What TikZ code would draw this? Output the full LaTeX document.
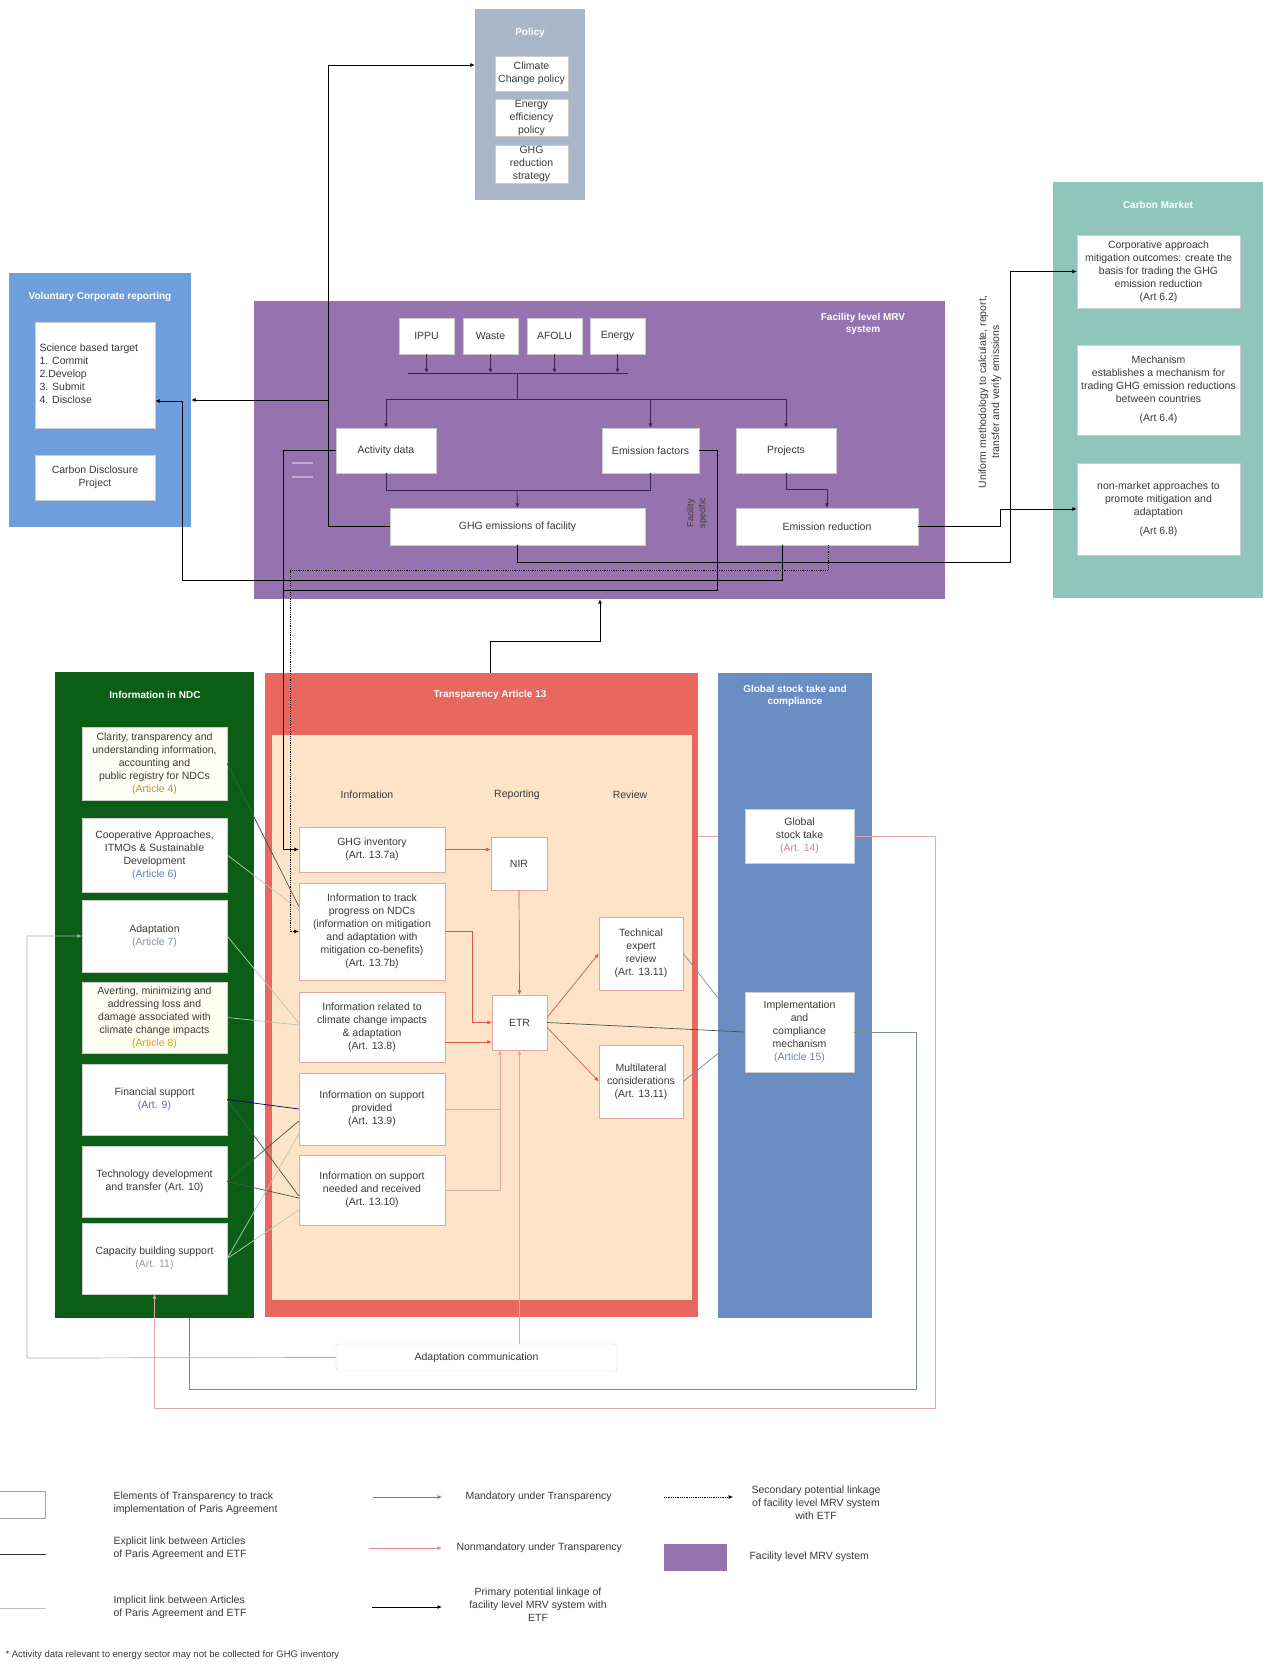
\documentclass[tikz,border=0pt]{standalone}
\usepackage{fontspec}
\setmainfont{Liberation Sans}
\usepackage{tikz}
\usetikzlibrary{arrows.meta,positioning,calc}

\definecolor{policyc}{HTML}{A9B6CA}
\definecolor{volc}{HTML}{6E9FDC}
\definecolor{mrvc}{HTML}{9672AE}
\definecolor{carbonc}{HTML}{8FC6B9}
\definecolor{ndcc}{HTML}{0C5E17}
\definecolor{transc}{HTML}{E8675E}
\definecolor{peach}{HTML}{FDE4C9}
\definecolor{gstc}{HTML}{6A8DC3}
\definecolor{textc}{HTML}{3A3A3A}
\definecolor{mandc}{HTML}{D9564A}
\definecolor{nonmandc}{HTML}{EBA3A3}
\definecolor{explc}{HTML}{3F5B45}
\definecolor{implc}{HTML}{B9C7B6}
\definecolor{loopc}{HTML}{7D8E92}
\definecolor{mrvline}{HTML}{3A2650}

\tikzset{
  panel/.style={rectangle,inner sep=0pt,draw=none},
  ptitle/.style={font=\bfseries\fontsize{10}{12}\selectfont,text=white,align=center},
  wbox/.style={draw=black!20,fill=white,rectangle,align=center,inner sep=1pt,
    font=\fontsize{10.5}{13}\selectfont,text=textc},
  tbox/.style={wbox,draw=mandc!55},
  lbl/.style={font=\fontsize{10.5}{13}\selectfont,text=textc,align=center},
  tip/.style={-{Latex[length=4.5pt,width=4pt]}},
  mrvlink/.style={mrvline,line width=0.7pt},
  prim/.style={black,line width=0.8pt},
  sec/.style={black,line width=0.8pt,densely dotted},
  mand/.style={mandc,line width=0.7pt},
  nonmand/.style={nonmandc,line width=0.6pt},
  expl/.style={explc,line width=0.7pt},
  impl/.style={implc,line width=0.7pt},
  loopline/.style={loopc,line width=0.7pt},
}

\begin{document}
\begin{tikzpicture}[x=1pt,y=-1pt]
  \useasboundingbox[fill=white] (0,0) rectangle (1270,1667);

  % panels
  \node[panel,fill=policyc,minimum width=110pt,minimum height=191pt] (policy) at (530,104.5) {};
  \node[ptitle] (policyt) at (530,33) {Policy};
  \node[panel,fill=volc,minimum width=182pt,minimum height=254pt] (vol) at (100,400) {};
  \node[ptitle] (volt) at (100,297) {Voluntary Corporate reporting};
  \node[panel,fill=mrvc,minimum width=691pt,minimum height=298pt] (mrv) at (599.5,450) {};
  \node[ptitle] (mrvt) at (863,324) {Facility level MRV\\system};
  \node[panel,fill=carbonc,minimum width=210pt,minimum height=416pt] (carbon) at (1158,390) {};
  \node[ptitle] (carbont) at (1158,205) {Carbon Market};
  \node[panel,fill=ndcc,minimum width=199pt,minimum height=646pt] (ndc) at (154.5,995) {};
  \node[ptitle] (ndct) at (155,695) {Information in NDC};
  \node[panel,fill=transc,minimum width=433pt,minimum height=644pt] (trans) at (481.5,995) {};
  \node[panel,fill=peach,minimum width=420pt,minimum height=565pt] (transin) at (482,1017.5) {};
  \node[ptitle] (transt) at (490,695) {Transparency Article 13};
  \node[panel,fill=gstc,minimum width=154pt,minimum height=645pt] (gstp) at (795,995.5) {};
  \node[ptitle] (gstt) at (795,696) {Global stock take and\\compliance};

  % policy
  \node[wbox,minimum width=73pt,minimum height=35pt] (climpol) at (531.5,73.5) {Climate\\Change policy};
  \node[wbox,minimum width=73pt,minimum height=37pt] (enpol) at (531.5,117.5) {Energy\\efficiency\\policy};
  \node[wbox,minimum width=73pt,minimum height=38pt] (ghgstr) at (531.5,164) {GHG\\reduction\\strategy};

  % voluntary reporting
  \node[wbox,minimum width=120pt,minimum height=106pt] (sbt) at (95,375) {};
  \node[lbl,align=left,anchor=north west] (sbtt) at (36,340) {Science based target\\1. Commit\\2.Develop\\3. Submit\\4. Disclose};
  \node[wbox,minimum width=120pt,minimum height=45pt] (cdp) at (95,477.5) {Carbon Disclosure\\Project};

  % facility level MRV
  \node[wbox,minimum width=55pt,minimum height=36pt] (ippu) at (426.5,336) {IPPU};
  \node[wbox,minimum width=55pt,minimum height=36pt] (waste) at (490.5,336) {Waste};
  \node[wbox,minimum width=55pt,minimum height=36pt] (afolu) at (554.5,336) {AFOLU};
  \node[wbox,minimum width=55pt,minimum height=36pt] (energy) at (617.5,336) {Energy};
  \node[wbox,minimum width=100pt,minimum height=45pt] (actd) at (386,450.5) {Activity data};
  \node[wbox,minimum width=97pt,minimum height=45pt] (emfac) at (650.5,450.5) {Emission factors};
  \node[wbox,minimum width=100pt,minimum height=45pt] (proj) at (786,450.5) {Projects};
  \node[wbox,minimum width=255pt,minimum height=37pt] (ghgfac) at (517.5,526.5) {GHG emissions of facility};
  \node[wbox,minimum width=182pt,minimum height=37pt] (emred) at (827,526.5) {Emission reduction};
  \node[lbl,rotate=90,font=\fontsize{9}{12}\selectfont] (fspec) at (697,513) {Facility\\specific};
  \coordinate (dashA) at (292,463); \coordinate (dashB) at (292,477);
  \draw[mrvc!60!white,line width=1.2pt] (dashA) -- ++(21,0) (dashB) -- ++(21,0);

  % carbon market
  \node[wbox,minimum width=163pt,minimum height=73pt] (corp) at (1158.5,271.5) {Corporative approach\\mitigation outcomes: create the\\basis for trading the GHG\\emission reduction\\(Art 6.2)};
  \node[wbox,minimum width=163pt,minimum height=90pt] (mech) at (1158.5,390) {Mechanism\\establishes a mechanism for\\trading GHG emission reductions\\between countries\\[6pt](Art 6.4)};
  \node[wbox,minimum width=163pt,minimum height=92pt] (nonmk) at (1158.5,509) {non-market approaches to\\promote mitigation and\\adaptation\\[6pt](Art 6.8)};
  \node[lbl,rotate=90] (unif) at (990,392) {Uniform methodology to calculate, report,\\transfer and verify emissions};

  % information in NDC
  \node[wbox,fill=yellow!4,minimum width=145pt,minimum height=73pt] (clar) at (154.5,763.5) {Clarity, transparency and\\understanding information,\\accounting and\\public registry for NDCs\\\textcolor[HTML]{C98A3A}{(Article 4)}};
  \node[wbox,minimum width=145pt,minimum height=74pt] (coop) at (154.5,855) {Cooperative Approaches,\\ITMOs \& Sustainable\\Development\\\textcolor[HTML]{5B7FC0}{(Article 6)}};
  \node[wbox,minimum width=145pt,minimum height=72pt] (adapt) at (154.5,936) {Adaptation\\\textcolor[HTML]{8194A8}{(Article 7)}};
  \node[wbox,fill=yellow!6,minimum width=145pt,minimum height=71pt] (avert) at (154.5,1017.5) {Averting, minimizing and\\addressing loss and\\damage associated with\\climate change impacts\\\textcolor[HTML]{E0A020}{(Article 8)}};
  \node[wbox,minimum width=145pt,minimum height=71pt] (fin) at (154.5,1099.5) {Financial support\\\textcolor[HTML]{6A5ACD}{(Art. 9)}};
  \node[wbox,minimum width=145pt,minimum height=71pt] (tech) at (154.5,1181.5) {Technology development\\and transfer (Art. 10)};
  \node[wbox,minimum width=145pt,minimum height=71pt] (cap) at (154.5,1258.5) {Capacity building support\\\textcolor[HTML]{9A9A9A}{(Art. 11)}};

  % transparency
  \node[lbl] (hinfo) at (367,795) {Information};
  \node[lbl] (hrep) at (517,795) {Reporting};
  \node[lbl] (hrev) at (630,795) {Review};
  \node[tbox,minimum width=146pt,minimum height=45pt] (ghginv) at (372,849.5) {GHG inventory\\(Art. 13.7a)};
  \node[tbox,minimum width=146pt,minimum height=97pt] (track) at (372,931.5) {Information to track\\progress on NDCs\\(information on mitigation\\and adaptation with\\mitigation co-benefits)\\(Art. 13.7b)};
  \node[tbox,minimum width=146pt,minimum height=70pt] (impacts) at (372,1027) {Information related to\\climate change impacts\\\& adaptation\\(Art. 13.8)};
  \node[tbox,minimum width=146pt,minimum height=72pt] (prov) at (372,1109) {Information on support\\provided\\(Art. 13.9)};
  \node[tbox,minimum width=146pt,minimum height=70pt] (need) at (372,1190) {Information on support\\needed and received\\(Art. 13.10)};
  \node[tbox,minimum width=56pt,minimum height=53pt] (nir) at (519,863.5) {NIR};
  \node[tbox,minimum width=55pt,minimum height=55pt] (etr) at (519.5,1022.5) {ETR};
  \node[tbox,minimum width=84pt,minimum height=73pt] (ter) at (641,953.5) {Technical\\expert\\review\\(Art. 13.11)};
  \node[tbox,minimum width=84pt,minimum height=73pt] (mc) at (641,1081.5) {Multilateral\\considerations\\(Art. 13.11)};

  % global stock take
  \node[wbox,minimum width=109pt,minimum height=54pt] (gst) at (799.5,836) {Global\\stock take\\\textcolor[HTML]{E07A9A}{(Art. 14)}};
  \node[wbox,minimum width=109pt,minimum height=80pt] (impl) at (799.5,1032) {Implementation\\and\\compliance\\mechanism\\\textcolor[HTML]{6A86B8}{(Article 15)}};

  \node[wbox,rounded corners=3pt,draw=black!15,minimum width=281pt,minimum height=27pt] (adcomm) at (476.5,1357.5) {Adaptation communication};

  % links inside the facility MRV system
  \coordinate (busL) at (408,373);
  \coordinate (busR) at (628,373);
  \coordinate (busM) at (517,373);
  \coordinate (split) at (517,399);
  \coordinate (join) at (517,490);
  \draw[mrvlink] (busL) -- (busR);
  \foreach \s in {ippu,waste,afolu,energy}
    \draw[mrvlink,tip] (\s.south) -- (\s.south |- busL);
  \draw[mrvlink] (busM) -- (split);
  \draw[mrvlink,tip] (split) -| (actd.north);
  \draw[mrvlink,tip] (split) -| (emfac.north);
  \draw[mrvlink,tip] (split) -| (proj.north);
  \draw[mrvlink] (actd.south) |- (join);
  \draw[mrvlink] (emfac.south) |- (join);
  \draw[mrvlink,tip] (join) -- (ghgfac.north);
  \draw[mrvlink,tip] (proj.south) |- ([yshift=18pt]emred.north) -- (emred.north);

  % primary and secondary linkages
  \coordinate (polup) at (328,65);
  \coordinate (volsplit) at (328,400);
  \draw[prim,tip] (ghgfac.west) -| (polup) -- (polup -| policy.west);
  \draw[prim,tip] (volsplit) -- (volsplit -| vol.east);
  \coordinate (cmA) at (1010,562);
  \coordinate (cmB) at (1000,526.5);
  \draw[prim,tip] (ghgfac.south) |- (cmA) |- (corp.west);
  \draw[prim,tip] (emred.east) -- (cmB) |- (nonmk.west);
  \coordinate (sciA) at (182,580);
  \draw[prim,tip] ([xshift=-45pt]emred.south) |- (sciA) |- ([yshift=-26pt]sbt.east);
  \coordinate (invA) at (283,450.5);
  \coordinate (efA) at (717,590);
  \draw[prim,tip] (actd.west) -- (invA) |- (ghginv.west);
  \draw[prim] (emfac.east) -| (efA) -- (efA -| invA);
  \coordinate (trA) at (290,570);
  \draw[sec,tip] ([xshift=1pt]emred.south) |- (trA) |- (track.west);
  \coordinate (trUp) at (600,641);
  \draw[prim,tip] ([xshift=8.5pt]trans.north) |- (trUp) -- (trUp |- mrv.south);

  % transparency framework
  \draw[mand,tip] (ghginv.east) -- (ghginv.east -| nir.west);
  \draw[mand,tip] (nir.south) -- (etr.north);
  \draw[mand,tip] (track.east) -- ++(27,0) |- (etr.west);
  \draw[mand,tip] ([yshift=-15pt]impacts.east) -- ([yshift=-19.5pt]etr.west);
  \draw[nonmand,tip] (prov.east) -| ([xshift=-19.5pt]etr.south);
  \draw[nonmand,tip] (need.east) -| ([xshift=-19.5pt]etr.south);
  \draw[mand,tip] ([yshift=5pt]etr.east) -- (ter.west);
  \draw[mand,tip] ([yshift=-5pt]etr.east) -- (mc.west);
  \draw[expl] (etr.east) -- (impl.west);
  \draw[loopline] (ter.east) -- (impl.west);
  \draw[loopline] (mc.east) -- (impl.west);
  \draw[nonmand,tip] (adcomm.north -| etr.south) -- (etr.south);
  \draw[nonmand] (gst.west -| trans.east) -- (gst.west -| gstp.west);

  % articles of the Paris Agreement and ETF
  \draw[expl] (clar.east) -- ([yshift=25pt]track.west);
  \draw[impl] (coop.east) -- ([yshift=22pt]track.west);
  \draw[impl] (adapt.east) -- ([yshift=4pt]impacts.west);
  \draw[impl] (avert.east) -- ([yshift=2pt]impacts.west);
  \draw[expl,draw=blue!45!black] (fin.east) -- (prov.west);
  \draw[expl] (fin.east) -- ([yshift=-6pt]need.west);
  \draw[expl] (tech.east) -- ([yshift=-12pt]prov.west);
  \draw[expl] (tech.east) -- ([yshift=-8pt]need.west);
  \draw[impl] (cap.east) -- ([yshift=-25pt]prov.west);
  \draw[impl] (cap.east) -- ([yshift=-20pt]need.west);

  % outer loops
  \coordinate (gstA) at (935,1408);
  \coordinate (implA) at (916,1389);
  \coordinate (acA) at (27,1358);
  \draw[nonmand,tip] (gst.east) -| (gstA) -| (cap.south);
  \draw[loopline] (impl.east) -| (implA) -| ([xshift=34.5pt]ndc.south);
  \draw[loopline,draw=loopc!70,tip] (adcomm.west) -- (acA) |- (adapt.west);

  % legend
  \node[wbox,draw=black!35,minimum width=46pt,minimum height=27pt] (legbox) at (22,1504.5) {};
  \node[lbl,align=left,anchor=west] (legboxt) at (110,1503) {Elements of Transparency to track\\implementation of Paris Agreement};
  \coordinate (legE1) at (0,1554); \coordinate (legE2) at (46,1554);
  \draw[black!80,line width=0.8pt] (legE1) -- (legE2);
  \node[lbl,align=left,anchor=west] (legexpl) at (110,1548) {Explicit link between Articles\\of Paris Agreement and ETF};
  \coordinate (legI1) at (0,1608); \coordinate (legI2) at (46,1608);
  \draw[impl] (legI1) -- (legI2);
  \node[lbl,align=left,anchor=west] (legimpl) at (110,1607) {Implicit link between Articles\\of Paris Agreement and ETF};

  \coordinate (legM1) at (373,1497); \coordinate (legM2) at (442,1497);
  \draw[mand,tip] (legM1) -- (legM2);
  \node[lbl,anchor=west] (legmand) at (462,1497) {Mandatory under Transparency};
  \coordinate (legN1) at (369,1548); \coordinate (legN2) at (442,1548);
  \draw[nonmand,draw=mandc!70,tip] (legN1) -- (legN2);
  \node[lbl,anchor=west] (legnon) at (453,1548) {Nonmandatory under Transparency};
  \coordinate (legP1) at (372,1607); \coordinate (legP2) at (442,1607);
  \draw[prim,line width=1pt,tip] (legP1) -- (legP2);
  \node[lbl] (legprim) at (538,1605) {Primary potential linkage of\\facility level MRV system with\\ETF};

  \coordinate (legS1) at (664,1497); \coordinate (legS2) at (733,1497);
  \draw[sec,line width=0.6pt,tip] (legS1) -- (legS2);
  \node[lbl] (legsec) at (816,1503) {Secondary potential linkage\\of facility level MRV system\\with ETF};
  \node[panel,fill=mrvc,minimum width=63pt,minimum height=27pt] (legmrv) at (695.5,1557.5) {};
  \node[lbl,anchor=west] (legmrvt) at (746,1557) {Facility level MRV system};

  \node[lbl,anchor=west,font=\fontsize{9.5}{12}\selectfont] (foot) at (2,1655) {* Activity data relevant to energy sector may not be collected for GHG inventory};
\end{tikzpicture}
\end{document}
